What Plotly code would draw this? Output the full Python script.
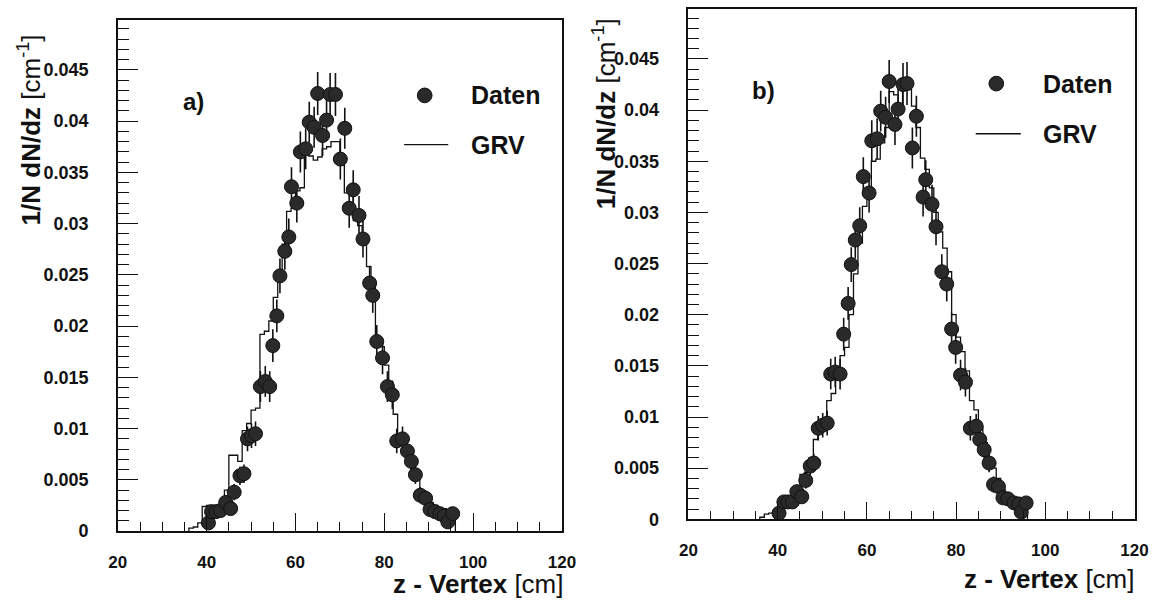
import plotly.graph_objects as go

W, H = 1175, 607

# ---- measured distribution, panel a) ----
z_a = [40.4, 41.1, 42.1, 43.1, 44.3, 45.4, 46.2, 47.5, 48.4, 49.2, 50.1, 51.0,
       52.1, 53.2, 54.2, 54.9, 55.8, 56.5, 57.6, 58.5, 59.1, 60.3, 61.1, 62.3,
       63.1, 64.2, 65.0, 66.1, 67.0, 67.8, 69.0, 70.1, 71.1, 72.1, 73.0, 74.3,
       75.2, 76.7, 77.4, 78.3, 79.6, 80.7, 81.8, 82.8, 84.1, 85.2, 86.1, 87.0,
       88.1, 89.3, 90.3, 91.4, 92.5, 93.5, 94.3, 95.4]
dndz_a = [0.0008, 0.0019, 0.0019, 0.0020, 0.0028, 0.0022, 0.0038, 0.0054, 0.0056,
          0.0090, 0.0093, 0.0095, 0.0141, 0.0146, 0.0141, 0.0181, 0.0210, 0.0249,
          0.0273, 0.0287, 0.0336, 0.0320, 0.0370, 0.0373, 0.0399, 0.0394, 0.0427,
          0.0386, 0.0401, 0.0426, 0.0426, 0.0363, 0.0393, 0.0315, 0.0333, 0.0308,
          0.0285, 0.0242, 0.0230, 0.0185, 0.0169, 0.0141, 0.0133, 0.0088, 0.0090,
          0.0078, 0.0068, 0.0055, 0.0035, 0.0032, 0.0021, 0.0019, 0.0017, 0.0015,
          0.0009, 0.0017]
err_a = [0.0004, 0.0006, 0.0006, 0.0006, 0.0007, 0.0006, 0.0008, 0.0009, 0.0009,
         0.0012, 0.0012, 0.0012, 0.0015, 0.0015, 0.0015, 0.0016, 0.0016, 0.0017,
         0.0018, 0.0018, 0.0019, 0.0019, 0.0020, 0.0020, 0.0020, 0.0020, 0.0021,
         0.0020, 0.0020, 0.0021, 0.0021, 0.0020, 0.0020, 0.0019, 0.0019, 0.0019,
         0.0018, 0.0017, 0.0017, 0.0016, 0.0016, 0.0015, 0.0014, 0.0012, 0.0012,
         0.0011, 0.0010, 0.0009, 0.0008, 0.0008, 0.0006, 0.0006, 0.0006, 0.0006,
         0.0004, 0.0006]

# ---- GRV simulation histogram, panel a) (1 cm bins from 36 to 96 cm) ----
grv_edges = list(range(36, 97))
grv_a = [0.0003, 0.0004, 0.0008, 0.0024, 0.0025, 0.0024, 0.0022, 0.0026, 0.0040,
         0.0074, 0.0074, 0.0068, 0.0098, 0.0105, 0.0118, 0.0120, 0.0192, 0.0195,
         0.0205, 0.0228, 0.0255, 0.0280, 0.0312, 0.0315, 0.0332, 0.0335, 0.0368,
         0.0366, 0.0362, 0.0365, 0.0373, 0.0375, 0.0380, 0.0380, 0.0357, 0.0330,
         0.0330, 0.0303, 0.0298, 0.0279, 0.0258, 0.0240, 0.0187, 0.0180, 0.0162,
         0.0145, 0.0114, 0.0088, 0.0086, 0.0075, 0.0060, 0.0055, 0.0036, 0.0033,
         0.0028, 0.0025, 0.0022, 0.0022, 0.0020, 0.0018]

# ---- measured distribution, panel b) ----
z_b = [40.3, 41.4, 42.3, 43.3, 44.3, 45.4, 46.3, 47.3, 48.1, 49.1, 50.1, 51.1,
       51.9, 52.9, 54.0, 54.8, 55.8, 56.5, 57.4, 58.4, 59.2, 60.5, 61.1, 62.3,
       63.1, 64.2, 65.0, 66.3, 67.0, 68.1, 69.0, 70.2, 71.1, 72.6, 73.2, 74.6,
       75.5, 76.8, 77.9, 79.0, 79.9, 81.0, 82.1, 83.2, 84.5, 85.3, 86.3, 87.4,
       88.4, 89.5, 90.5, 91.6, 93.0, 94.1, 94.6, 95.7]
dndz_b = [0.0006, 0.0017, 0.0017, 0.0017, 0.0027, 0.0022, 0.0038, 0.0052, 0.0055,
          0.0089, 0.0092, 0.0094, 0.0142, 0.0144, 0.0142, 0.0181, 0.0211, 0.0249,
          0.0273, 0.0287, 0.0335, 0.0319, 0.0370, 0.0372, 0.0399, 0.0393, 0.0428,
          0.0386, 0.0401, 0.0425, 0.0426, 0.0363, 0.0394, 0.0315, 0.0332, 0.0308,
          0.0286, 0.0242, 0.0230, 0.0186, 0.0168, 0.0141, 0.0134, 0.0089, 0.0091,
          0.0078, 0.0068, 0.0055, 0.0034, 0.0032, 0.0021, 0.0020, 0.0016, 0.0015,
          0.0007, 0.0016]
err_b = [0.0004, 0.0006, 0.0006, 0.0006, 0.0007, 0.0006, 0.0008, 0.0009, 0.0009,
         0.0012, 0.0012, 0.0012, 0.0015, 0.0015, 0.0015, 0.0016, 0.0016, 0.0017,
         0.0018, 0.0018, 0.0019, 0.0019, 0.0020, 0.0020, 0.0020, 0.0020, 0.0021,
         0.0020, 0.0020, 0.0021, 0.0021, 0.0020, 0.0020, 0.0019, 0.0019, 0.0019,
         0.0018, 0.0017, 0.0017, 0.0016, 0.0016, 0.0015, 0.0014, 0.0012, 0.0012,
         0.0011, 0.0010, 0.0009, 0.0008, 0.0008, 0.0006, 0.0006, 0.0006, 0.0006,
         0.0004, 0.0006]

grv_b = [0.0002, 0.0005, 0.0006, 0.0008, 0.0012, 0.0016, 0.0018, 0.0022, 0.0030,
         0.0044, 0.0046, 0.0060, 0.0078, 0.0088, 0.0090, 0.0116, 0.0123, 0.0136,
         0.0160, 0.0168, 0.0200, 0.0240, 0.0270, 0.0306, 0.0315, 0.0350, 0.0352,
         0.0368, 0.0383, 0.0418, 0.0415, 0.0400, 0.0420, 0.0420, 0.0404, 0.0383,
         0.0353, 0.0342, 0.0324, 0.0300, 0.0281, 0.0265, 0.0242, 0.0200, 0.0178,
         0.0164, 0.0145, 0.0116, 0.0107, 0.0090, 0.0075, 0.0060, 0.0050, 0.0040,
         0.0029, 0.0023, 0.0018, 0.0018, 0.0016, 0.0005]

# ---- axis ticks ----
x_range = [20, 120]
y_range = [0, 0.0499]
y_tick_vals = [0, 0.005, 0.01, 0.015, 0.02, 0.025, 0.03, 0.035, 0.04, 0.045]
y_tick_text = ["0", "0.005", "0.01", "0.015", "0.02", "0.025", "0.03", "0.035", "0.04", "0.045"]
x_tick_vals = [20, 40, 60, 80, 100, 120]
x_tick_text = ["20", "40", "60", "80", "100", "120"]

FONT = "Liberation Sans, Arial, Helvetica, sans-serif"
INK = "#111111"
DOT = "#2a2a2a"


def step_outline(edges, vals):
    """Closed histogram outline for an 'hv' line."""
    xs = [edges[0]] + edges[:-1] + [edges[-1]]
    ys = [0] + list(vals) + [0]
    return xs, ys


def px_x(p):
    return p / W


def px_y(p):
    return 1 - p / H


fig = go.Figure()

panels = [
    dict(xa="x", ya="y", z=z_a, v=dndz_a, e=err_a, grv=grv_a),
    dict(xa="x2", ya="y2", z=z_b, v=dndz_b, e=err_b, grv=grv_b),
]

for p in panels:
    hx, hy = step_outline(grv_edges, p["grv"])
    fig.add_trace(go.Scatter(
        x=hx, y=hy, mode="lines", line=dict(shape="hv", color=INK, width=1.3),
        xaxis=p["xa"], yaxis=p["ya"], showlegend=False, hoverinfo="skip"))
    fig.add_trace(go.Scatter(
        x=p["z"], y=p["v"], mode="markers",
        marker=dict(symbol="circle", size=14, color=DOT, line=dict(color=INK, width=1)),
        error_y=dict(type="data", array=p["e"], visible=True, width=0,
                     thickness=1.6, color=INK),
        xaxis=p["xa"], yaxis=p["ya"], showlegend=False))

# Axis geometry (pixel positions of each frame)
frames = {
    "a": dict(x0=111, x1=564, top=20, bottom=540),
    "b": dict(x0=693, x1=1148, top=9, bottom=528),
}


def xaxis_cfg(f, anchor):
    return dict(
        domain=[px_x(f["x0"]), px_x(f["x1"])], anchor=anchor, range=x_range,
        tickvals=x_tick_vals, ticktext=x_tick_text,
        ticks="inside", ticklen=18, tickwidth=1.3, tickcolor=INK,
        minor=dict(dtick=5, tick0=20, ticks="inside", ticklen=9, tickwidth=1.3,
                   tickcolor=INK, showgrid=False),
        showline=True, linecolor=INK, linewidth=1.5, mirror=True,
        showgrid=False, zeroline=False, ticklabelstandoff=15,
        tickfont=dict(family=FONT, size=17, color=INK, weight="bold"),
    )


def yaxis_cfg(f, anchor):
    return dict(
        domain=[px_y(f["bottom"]), px_y(f["top"])], anchor=anchor, range=y_range,
        tickvals=y_tick_vals, ticktext=y_tick_text,
        ticks="inside", ticklen=20, tickwidth=1.3, tickcolor=INK,
        minor=dict(dtick=0.001, tick0=0, ticks="inside", ticklen=11, tickwidth=1.3,
                   tickcolor=INK, showgrid=False),
        showline=True, linecolor=INK, linewidth=1.5, mirror=True,
        showgrid=False, zeroline=False, ticklabelstandoff=24,
        tickfont=dict(family=FONT, size=18, color=INK, weight="bold"),
    )


fig.update_layout(
    width=W, height=H, margin=dict(l=0, r=0, t=0, b=0),
    paper_bgcolor="white", plot_bgcolor="white",
    xaxis=xaxis_cfg(frames["a"], "y"), yaxis=yaxis_cfg(frames["a"], "x"),
    xaxis2=xaxis_cfg(frames["b"], "y2"), yaxis2=yaxis_cfg(frames["b"], "x2"),
    showlegend=False,
)

ytitle = "<b>1/N dN/dz</b> [cm<sup>-1</sup>]"
xtitle = "<b>z - Vertex</b> [cm]"

labels = [
    # (x px, y px, text, size, xanchor, yanchor, angle)
    (21, 132, ytitle, 26, "center", "middle", -90),
    (607, 116, ytitle, 26, "center", "middle", -90),
    (567, 610, xtitle, 26, "right", "bottom", 0),
    (1149, 605, xtitle, 26, "right", "bottom", 0),
    (188, 103, "<b>a)</b>", 24, "center", "middle", 0),
    (770, 92, "<b>b)</b>", 24, "center", "middle", 0),
    (470, 97, "<b>Daten</b>", 25, "left", "middle", 0),
    (470, 147, "<b>GRV</b>", 25, "left", "middle", 0),
    (1054, 85, "<b>Daten</b>", 25, "left", "middle", 0),
    (1054, 136, "<b>GRV</b>", 25, "left", "middle", 0),
]
for x, y, t, s, xa, ya, ang in labels:
    fig.add_annotation(
        x=px_x(x), y=px_y(y), xref="paper", yref="paper", text=t, showarrow=False,
        xanchor=xa, yanchor=ya, textangle=ang, borderpad=0,
        font=dict(family=FONT, size=s, color=INK))

# Legend keys: filled dot for data, short line for GRV
legend_keys = [
    dict(dot=(424, 97), line=(403, 448, 147)),
    dict(dot=(1007, 85), line=(986, 1032, 136)),
]
for k in legend_keys:
    cx, cy = k["dot"]
    r = 7.5
    fig.add_shape(type="circle", xref="paper", yref="paper",
                  x0=px_x(cx - r), x1=px_x(cx + r), y0=px_y(cy + r), y1=px_y(cy - r),
                  fillcolor=DOT, line=dict(color=INK, width=1))
    lx0, lx1, ly = k["line"]
    fig.add_shape(type="line", xref="paper", yref="paper",
                  x0=px_x(lx0), x1=px_x(lx1), y0=px_y(ly), y1=px_y(ly),
                  line=dict(color=INK, width=1.3))

fig.write_html("out.html")
